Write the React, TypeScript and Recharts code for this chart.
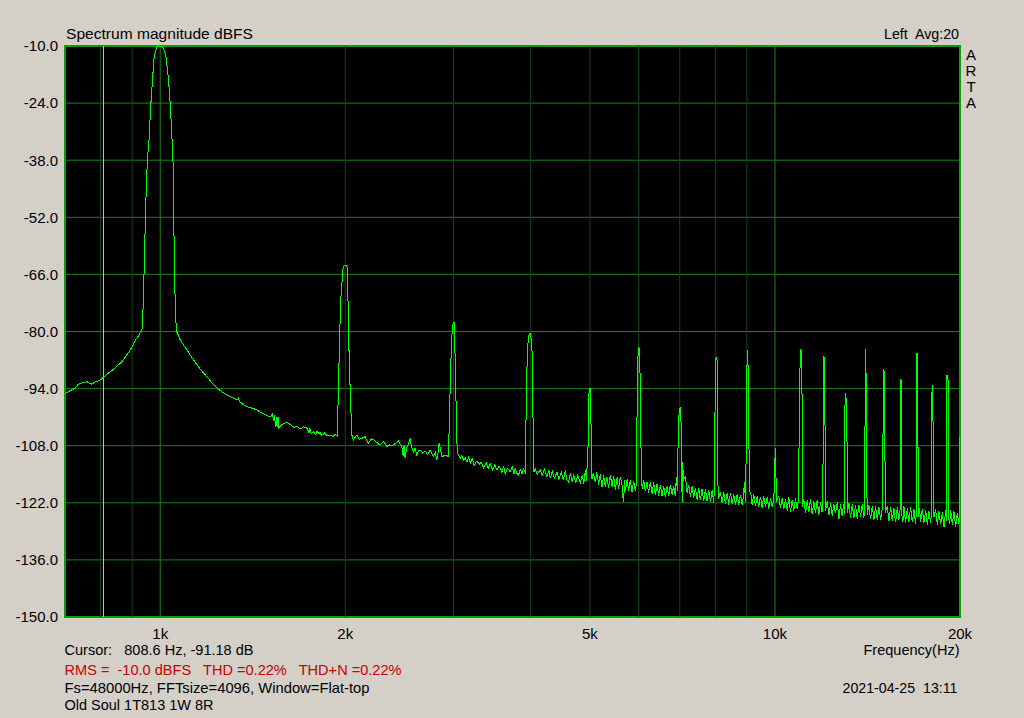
import React from 'react';
import { ComposedChart, Line, XAxis, YAxis, CartesianGrid, ReferenceLine, ReferenceArea } from 'recharts';

const FONT = '"Liberation Sans", Arial, sans-serif';

// Axis ticks / labels
const yTicks = [-10, -24, -38, -52, -66, -80, -94, -108, -122, -136, -150];
const xTicks = [1000, 2000, 5000, 10000, 20000];
const xTickLabels = ['1k', '2k', '5k', '10k', '20k'];
const gridDecadeHz = [1000, 10000];
const gridMinorHz = [800, 900, 2000, 3000, 4000, 5000, 6000, 7000, 8000, 9000];
const cursorHz = 808.6;

// Spectrum trace, [frequency Hz, level dBFS]
const skirtLow: [number, number][] = [
  [700, -95.2], [712, -94.6], [727, -93.9], [736, -92.9], [748, -92.6], [760, -92.3], [767, -92.7],
  [774, -92.9], [785, -92.3], [793, -92.1], [800, -91.8], [808.6, -91.2], [820, -90.4], [839, -89.3],
  [852, -88.4], [866, -87.4], [880, -86.0], [894, -84.5], [903, -83.3], [911, -82.1], [923, -81.0], [934, -79.5],
];

const fundamental: [number, number][] = [
  [937, -76], [941, -66], [945, -55], [949, -45], [953, -38], [959, -33], [962.5, -28], [966, -23.7],
  [971.5, -18.3], [976.6, -13.4], [981.4, -11.5], [987.7, -10.2], [994, -10.05], [1000, -10], [1006, -10.1],
  [1012.5, -10.6], [1017, -11.4], [1021.6, -12.6], [1026, -15], [1031.6, -18.3], [1038, -24], [1043, -30],
  [1049, -38], [1052, -52], [1055, -66], [1059, -76], [1063, -80],
];

const skirtHigh: [number, number][] = [
  [1068, -80.6], [1078, -82.1], [1091, -83.3], [1105, -84.5], [1126, -86.4], [1148, -88.2], [1170, -89.8],
  [1191, -91.1], [1214, -92.6], [1237, -93.9], [1260, -94.8], [1284, -95.6], [1308, -96.2], [1333, -96.8],
  [1340, -96.4], [1347, -97.2], [1365, -97.9], [1384, -98.4], [1410, -98.8], [1436, -99.2], [1455, -99.8],
  [1474, -100.2], [1492, -100.6], [1511, -100.9], [1522, -100.2], [1530, -101.8], [1535, -100.6], [1540, -103.5],
  [1545, -100.9], [1549, -103.3], [1555, -101.0], [1560, -103.6], [1568, -103.2], [1585, -102.6], [1609, -102.3],
  [1630, -102.9], [1650, -103.5], [1670, -103.2], [1690, -103.9], [1710, -103.4], [1733, -103.7], [1745, -104.8],
  [1752, -103.8], [1760, -105.1], [1776, -104.6], [1790, -105.3], [1800, -104.4], [1810, -105.0], [1820, -104.8],
  [1830, -105.5], [1850, -104.9], [1870, -105.6], [1892, -105.4], [1910, -105.8], [1925, -105.2], [1940, -105.6],
];

const band2to5k: [number, number][] = [
  [1943, -101.6], [1950, -94.3], [1957, -82], [1968, -71.4], [1977, -67.3], [1982, -64.9], [1992, -63.7],
  [2007, -63.7], [2017, -64.5], [2024, -80], [2037, -94.3], [2050, -105.4],
  [2061, -106.6], [2088, -105.4], [2106, -106.4], [2127, -106.2], [2154, -105.8], [2180, -107.4], [2207, -106.3],
  [2236, -106.8], [2261, -107.5], [2279, -107.8], [2309, -107.0], [2337, -108.2], [2357, -107.8], [2381, -108.0],
  [2411, -107.5], [2441, -106.8], [2456, -107.6], [2472, -108.2], [2484, -110.5], [2493, -107.8], [2503, -111.1],
  [2516, -108.5], [2530, -107.8], [2550, -106.4], [2564, -108.3], [2582, -109.5], [2598, -108.6], [2615, -110.3],
  [2632, -109.2], [2648, -109.1], [2673, -109.8], [2698, -109.3], [2723, -110.2], [2749, -109.1], [2764, -110.0],
  [2783, -110.6], [2801, -109.6], [2819, -111.5], [2832, -109.5], [2843, -107.3], [2862, -109.4], [2875, -110.8],
  [2889, -110.5], [2913, -110.4], [2944, -110.6],
  [2955, -100], [2971, -87], [2985, -79.6], [2996, -77.8], [3008, -77.8], [3019, -87], [3030, -99.2], [3042, -109.8],
  [3056, -110.3], [3076, -111.2], [3096, -110.4], [3117, -111.6], [3134, -110.9], [3154, -112.0], [3175, -110.8],
  [3194, -112.3], [3218, -111.2], [3242, -112.8], [3275, -111.7], [3303, -112.6], [3328, -112.1], [3357, -113.4],
  [3391, -112.2], [3416, -113.6], [3442, -112.4], [3474, -114.0], [3500, -112.7], [3530, -113.9], [3560, -113.0],
  [3597, -114.6], [3618, -112.9], [3642, -115.0], [3669, -113.5], [3710, -114.4], [3738, -113.2], [3766, -115.0],
  [3780, -113.5], [3801, -114.7], [3827, -115.2], [3852, -113.8], [3877, -114.9], [3896, -113.6], [3925, -114.5],
  [3944, -92.7], [3958, -84.5], [3973, -81.3], [3988, -80.4], [3999, -80.4], [4009, -81.3], [4025, -84.5],
  [4034, -92.7], [4044, -105.8], [4055, -114.4],
  [4075, -113.6], [4105, -115.0], [4152, -113.9], [4183, -115.3], [4215, -113.7], [4257, -115.6], [4286, -113.9],
  [4311, -116.0], [4343, -114.2], [4376, -116.0], [4421, -114.5], [4450, -116.2], [4492, -114.6], [4526, -116.5],
  [4560, -114.0], [4585, -116.3], [4616, -116.9], [4646, -114.8], [4681, -116.8], [4704, -115.0], [4743, -117.1],
  [4778, -115.2], [4824, -117.0], [4860, -115.3], [4888, -117.3], [4915, -114.0], [4937, -116.6],
];

const band5to10k: [number, number][] = [
  [4958, -109.9], [4970, -107.3], [4983, -95.2], [5002, -93.9], [5014, -97.6], [5027, -107.3], [5040, -116.2],
  [5065, -114.6], [5103, -117.0], [5131, -114.5], [5166, -117.5], [5199, -115.0], [5232, -118.2], [5264, -115.3],
  [5297, -118.0], [5327, -115.6], [5363, -118.4], [5398, -115.2], [5433, -118.0], [5465, -115.4], [5500, -118.9],
  [5535, -115.8], [5568, -118.6], [5604, -115.6], [5640, -117.8], [5657, -120.5], [5673, -121.9], [5693, -116.4],
  [5710, -119.2], [5746, -116.3], [5781, -119.0], [5818, -116.5], [5855, -119.4], [5890, -116.6], [5928, -119.1],
  [5950, -117.2],
  [5956, -107], [5987, -86.2], [6002, -83.9], [6018, -84.4], [6040, -93.1], [6063, -116.8],
  [6085, -118.5], [6115, -116.4], [6154, -119.2], [6193, -116.8], [6230, -119.6], [6271, -116.9], [6311, -119.8],
  [6349, -117.0], [6389, -120.1], [6430, -117.3], [6469, -120.2], [6511, -117.6], [6553, -120.4], [6592, -117.8],
  [6634, -120.6], [6676, -118.0], [6716, -120.3], [6759, -117.6], [6802, -120.0], [6843, -117.9], [6887, -120.4],
  [6912, -115.6], [6939, -119.0],
  [6964, -102.9], [6990, -99.2], [7018, -98.6], [7044, -104.6], [7063, -121.9], [7079, -112.0], [7097, -116.5],
  [7151, -115.6], [7196, -119.5], [7239, -117.6], [7286, -120.6], [7333, -118.0], [7376, -120.9], [7424, -118.3],
  [7471, -121.2], [7516, -118.4], [7564, -121.4], [7612, -118.6], [7658, -121.5], [7707, -118.7], [7756, -121.6],
  [7802, -118.9], [7853, -121.7], [7903, -119.0], [7950, -122.0], [7972, -118.0],
  [8001, -87.0], [8023, -86.3], [8052, -87.0], [8062, -113.2], [8091, -121.0],
  [8153, -119.4], [8205, -122.0], [8254, -119.3], [8307, -122.2], [8360, -119.6], [8410, -122.4], [8465, -119.5],
  [8519, -122.3], [8570, -119.9], [8625, -122.6], [8680, -119.8], [8732, -122.5], [8788, -120.0], [8844, -122.4],
  [8887, -120.4], [8921, -117.0], [8954, -121.8],
  [8978, -110], [9011, -84.9], [9031, -84.5], [9054, -93.5], [9088, -118.9],
  [9141, -120.0], [9182, -122.6], [9237, -119.8], [9296, -122.8], [9356, -120.4], [9411, -123.0], [9472, -120.5],
  [9533, -123.2], [9589, -120.3], [9651, -123.1], [9713, -120.6], [9770, -123.4], [9834, -120.8], [9897, -123.0],
  [9956, -121.0], [9993, -115], [10008, -108.6], [10031, -113.0], [10057, -121.5],
];

const band10to20k: [number, number][] = [
  [10145, -120.5], [10210, -123.2], [10275, -120.8], [10337, -123.6], [10403, -121.0], [10469, -123.9],
  [10532, -120.6], [10600, -124.2], [10668, -121.3], [10731, -124.0], [10800, -120.9], [10869, -123.5], [10921, -121.2],
  [10976, -90.2], [11017, -84.4], [11059, -85.0], [11088, -123.0],
  [11141, -121.0], [11213, -124.6], [11285, -121.4], [11352, -124.3], [11425, -121.2], [11498, -124.8], [11567, -121.6],
  [11641, -124.5], [11715, -121.3], [11785, -125.0], [11862, -121.8], [11929, -124.2],
  [11983, -109.9], [12009, -86.3], [12041, -86.5], [12072, -110.3], [12086, -124.0],
  [12163, -121.6], [12236, -125.0], [12315, -122.0], [12394, -125.2], [12468, -122.3], [12548, -124.6], [12628, -121.9],
  [12703, -126.0], [12785, -122.4], [12867, -125.3], [12929, -122.2], [12978, -124.8],
  [12992, -98.8], [13041, -95.2], [13089, -100.9], [13125, -124.5],
  [13188, -122.0], [13274, -125.6], [13359, -122.3], [13439, -125.8], [13525, -122.6], [13611, -126.0], [13692, -122.5],
  [13781, -125.4], [13869, -122.4], [13952, -125.7], [13999, -122.6],
  [14025, -85.8], [14057, -84.4], [14094, -113.2], [14131, -125.0],
  [14215, -122.5], [14307, -126.0], [14399, -122.7], [14484, -126.2], [14577, -122.9], [14670, -126.3], [14758, -123.0],
  [14854, -126.1], [14949, -123.2],
  [15005, -98.4], [15038, -89.3], [15078, -91.5], [15117, -124.5],
  [15231, -122.8], [15322, -126.5], [15421, -123.0], [15520, -126.4], [15612, -123.3], [15712, -126.8], [15813, -123.1],
  [15907, -126.3], [15980, -123.5],
  [16010, -91.9], [16030, -91.7], [16060, -92.5], [16080, -124.8],
  [16150, -126.6], [16209, -122.8], [16313, -126.9], [16417, -123.4], [16514, -126.7], [16622, -123.0], [16728, -126.8],
  [16828, -123.6], [16936, -127.2], [16986, -123.9],
  [17018, -85.5], [17064, -85.5], [17108, -125.5],
  [17190, -123.4], [17257, -126.8], [17367, -123.5], [17471, -127.0], [17583, -123.8], [17695, -127.4], [17801, -124.0],
  [17916, -126.9], [17983, -124.2],
  [18004, -95.2], [18050, -93.1], [18099, -109], [18138, -125.5],
  [18255, -123.6], [18371, -127.5], [18480, -124.0], [18601, -127.3], [18720, -124.3], [18832, -128.0], [18953, -123.9],
  [19010, -126.5],
  [19040, -90.7], [19090, -90.7], [19125, -91.9], [19168, -125.5],
  [19240, -127.2], [19311, -123.8], [19435, -127.5], [19550, -124.1], [19676, -128.0], [19801, -124.4], [19919, -127.3],
  [19960, -124.6], [19985, -105.8], [20000, -108.0],
];

const trace = [...skirtLow, ...fundamental, ...skirtHigh, ...band2to5k, ...band5to10k, ...band10to20k].map(
  ([f, db]) => ({ f, db })
);

type Label = { text: string; x: number; y: number; w: number; color?: string };
const labels: Label[] = [
  { text: 'Spectrum magnitude dBFS', x: 66, y: 39, w: 187 },
  { text: 'Left  Avg:20', x: 884, y: 39, w: 75 },
  { text: 'Cursor:   808.6 Hz, -91.18 dB', x: 64.5, y: 655, w: 189 },
  { text: 'Frequency(Hz)', x: 863.5, y: 655, w: 96 },
  { text: 'RMS =  -10.0 dBFS   THD =0.22%   THD+N =0.22%', x: 64.5, y: 675, w: 337, color: '#c80000' },
  { text: 'Fs=48000Hz, FFTsize=4096, Window=Flat-top', x: 64.5, y: 693, w: 305 },
  { text: '2021-04-25  13:11', x: 842.5, y: 693, w: 115 },
  { text: 'Old Soul 1T813 1W 8R', x: 64.5, y: 710, w: 149 },
];
const brandLetters = ['A', 'R', 'T', 'A'];
const brandBaselines = [60, 76, 92, 108];

const tickStyle = { fill: '#000', fontSize: 15, fontFamily: FONT };

export default function App() {
  return (
    <div
      style={{
        position: 'absolute',
        left: 0,
        top: 0,
        width: 1024,
        height: 718,
        background: '#d4d0c8',
        overflow: 'hidden',
      }}
    >
      <ComposedChart width={1024} height={718} data={trace} margin={{ top: 46, right: 64, bottom: 0, left: 0 }}>
        <CartesianGrid vertical={false} stroke="#1c801c" fill="#000" fillOpacity={1} />
        <XAxis
          dataKey="f"
          type="number"
          scale="log"
          domain={[700, 20000]}
          allowDataOverflow
          ticks={xTicks}
          interval={0}
          tickFormatter={(v: number) => xTickLabels[xTicks.indexOf(v)] ?? ''}
          axisLine={false}
          tickLine={false}
          tickSize={0}
          tickMargin={11}
          height={101}
          tick={tickStyle}
        />
        <YAxis
          type="number"
          domain={[-150, -10]}
          allowDataOverflow
          ticks={yTicks}
          interval={0}
          tickFormatter={(v: number) => v.toFixed(1)}
          axisLine={false}
          tickLine={false}
          tickSize={0}
          tickMargin={7}
          width={65}
          tick={tickStyle}
        />
        {gridMinorHz.map((f) => (
          <ReferenceLine key={'m' + f} x={f} stroke="#0f4a0f" strokeWidth={1} />
        ))}
        {gridDecadeHz.map((f) => (
          <ReferenceLine key={'d' + f} x={f} stroke="#1c801c" strokeWidth={1} />
        ))}
        <ReferenceLine x={cursorHz} stroke="#d8d800" strokeWidth={1} />
        <Line
          dataKey="db"
          type="linear"
          stroke="#00ff00"
          strokeWidth={1}
          dot={false}
          activeDot={false}
          isAnimationActive={false}
          shapeRendering="crispEdges"
        />
        <ReferenceArea
          x1={700}
          x2={20000}
          y1={-150}
          y2={-10}
          fill="none"
          fillOpacity={0}
          stroke="#0c9c0c"
          strokeWidth={2}
          ifOverflow="visible"
        />
      </ComposedChart>
      <svg
        width={1024}
        height={718}
        style={{ position: 'absolute', left: 0, top: 0, pointerEvents: 'none' }}
      >
        {labels.map((l) => (
          <text
            key={l.text}
            x={l.x}
            y={l.y}
            textLength={l.w}
            lengthAdjust="spacingAndGlyphs"
            fill={l.color ?? '#000'}
            fontSize={15}
            fontFamily={FONT}
            style={{ whiteSpace: 'pre' }}
          >
            {l.text}
          </text>
        ))}
        {brandLetters.map((c, i) => (
          <text key={i} x={971} y={brandBaselines[i]} textAnchor="middle" fill="#000" fontSize={15} fontFamily={FONT}>
            {c}
          </text>
        ))}
      </svg>
    </div>
  );
}
